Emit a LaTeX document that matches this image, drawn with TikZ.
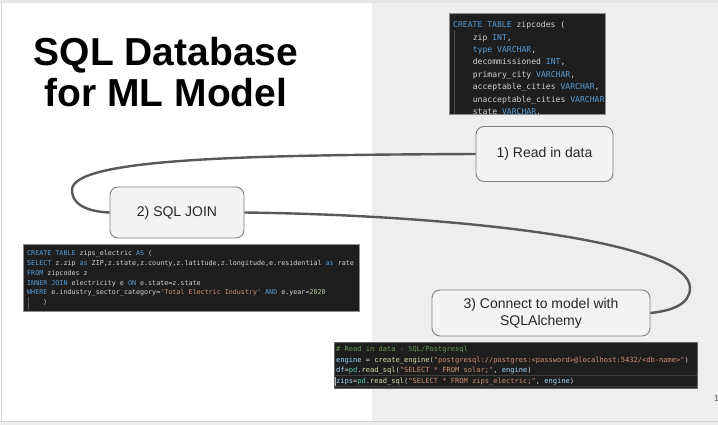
\documentclass[tikz,border=0pt]{standalone}
\usepackage{fontspec}
\setmainfont{Liberation Sans}
\setmonofont{DejaVu Sans Mono}
\definecolor{panelgrey}{HTML}{EEEEEE}
\definecolor{framegrey}{HTML}{D4D4D4}
\definecolor{codebg}{HTML}{1E1E1E}
\definecolor{codefg}{HTML}{D4D4D4}
\definecolor{sqlblue}{HTML}{569CD6}
\definecolor{strorange}{HTML}{CE9178}
\definecolor{numgreen}{HTML}{B5CEA8}
\definecolor{comgreen}{HTML}{6A9955}
\definecolor{varblue}{HTML}{9CDCFE}
\definecolor{funyellow}{HTML}{DCDCAA}
\definecolor{modteal}{HTML}{4EC9B0}
\definecolor{linkgrey}{HTML}{595959}
\definecolor{boxedge}{HTML}{808080}
\definecolor{boxfill}{HTML}{F3F3F3}
\definecolor{textdark}{HTML}{262626}
\newcommand\kwd[1]{\textcolor{sqlblue}{#1}}
\newcommand\strg[1]{\textcolor{strorange}{#1}}
\newcommand\numb[1]{\textcolor{numgreen}{#1}}
\newcommand\pyv[1]{\textcolor{varblue}{#1}}
\newcommand\pyf[1]{\textcolor{funyellow}{#1}}
\newcommand\pym[1]{\textcolor{modteal}{#1}}
\begin{document}
\begin{tikzpicture}[x=1pt,y=-1pt,
    stepbox/.style={draw=boxedge, fill=boxfill, rounded corners=8pt, line width=0.9pt,
      align=center, text=textdark, font=\fontsize{14}{17}\selectfont},
    codeline/.style={anchor=base west, inner sep=0pt, text=codefg},
    codebox/.style={fill=codebg},
    link/.style={draw=linkgrey, line width=2.4pt}]
  \useasboundingbox (0,0) rectangle (718,425);
  % slide frame
  \fill[white] (0,0) rectangle (718,425);
  \fill[panelgrey] (372,3) rectangle (718,421);
  \fill[black!10] (0,0) rectangle (718,3);
  \fill[black!7] (0,421) rectangle (718,425);
  \draw[framegrey] (0,421) -- (718,421);
  \draw[framegrey] (1,3) -- (1,421);
  % title
  \node[anchor=base, font=\bfseries\fontsize{39}{41}\selectfont] (title1) at (166,66) {SQL Database};
  \node[anchor=base, font=\bfseries\fontsize{39}{41}\selectfont] (title2) at (166,107) {for ML Model};
  % code: zipcodes table
  \begin{scope}[font=\ttfamily\fontsize{8.1}{10}\selectfont]
    \clip (449,13) rectangle (605,114);
    \fill[codebox] (449,13) rectangle (605,114);
    \draw[black!70, line width=0.6pt] (454,31) -- (454,114);
    \node[codeline] (a1) at (453,27.6) {\kwd{CREATE TABLE} zipcodes (};
    \node[codeline] (a2) at (472.6,40.05) {zip \kwd{INT},};
    \node[codeline] (a3) at (472.6,52.5) {\kwd{type VARCHAR},};
    \node[codeline] (a4) at (472.6,64.95) {decommissioned \kwd{INT},};
    \node[codeline] (a5) at (472.6,77.4) {primary\_city \kwd{VARCHAR},};
    \node[codeline] (a6) at (472.6,89.85) {acceptable\_cities \kwd{VARCHAR},};
    \node[codeline] (a7) at (472.6,102.3) {unacceptable\_cities \kwd{VARCHAR},};
    \node[codeline] (a8) at (472.6,114.75) {state \kwd{VARCHAR},};
  \end{scope}
  \draw[black!45, line width=0.8pt] (449,13) rectangle (605,114);
  % code: join
  \begin{scope}[font=\ttfamily\fontsize{6.7}{8}\selectfont]
    \fill[codebox] (23,244) rectangle (359,311);
    \draw[black!45, line width=0.8pt] (23,244) rectangle (359,311);
    \draw[black!65, line width=0.6pt] (28,297) -- (28,310);
    \node[codeline] (b1) at (27,255.7) {\kwd{CREATE TABLE} zips\_electric \kwd{AS} (};
    \node[codeline] (b2) at (27,265.5) {\kwd{SELECT} z.zip \kwd{as} ZIP,z.state,z.county,z.latitude,z.longitude,e.residential \kwd{as} rate};
    \node[codeline] (b3) at (27,275.3) {\kwd{FROM} zipcodes z};
    \node[codeline] (b4) at (27,285.1) {\kwd{INNER JOIN} electricity e \kwd{ON} e.state=z.state};
    \node[codeline] (b5) at (27,294.9) {\kwd{WHERE} e.industry\_sector\_category=\strg{'Total Electric Industry'} \kwd{AND} e.year=\numb{2020}};
    \node[codeline] (b6) at (43,304.7) {)};
  \end{scope}
  % code: sqlalchemy
  \begin{scope}[font=\ttfamily\fontsize{7.06}{9}\selectfont]
    \fill[codebox] (334,342) rectangle (697,388);
    \draw[black!60, line width=0.5pt] (334,342) rectangle (697,388);
    \draw[black!75, line width=0.5pt] (334,375.5) -- (697,375.5);
    \draw[black!75, line width=0.5pt] (334,386.5) -- (697,386.5);
    \node[codeline] (c1) at (336,351.5) {\textcolor{comgreen}{\# Read in data - SQL/Postgresql}};
    \node[codeline] (c2) at (336,362.2) {\pyv{engine} = \pyf{create\_engine}(\strg{"postgresql://postgres:<password>@localhost:5432/<db-name>"})};
    \node[codeline] (c3) at (336,372.9) {\pyv{df}=\pym{pd}.\pyf{read\_sql}(\strg{"SELECT * FROM solar;"}, \pyv{engine})};
    \node[codeline] (c4) at (336,383.6) {\pyv{zips}=\pym{pd}.\pyf{read\_sql}(\strg{"SELECT * FROM zips\_electric;"}, \pyv{engine})};
    \draw[black!30, line width=0.8pt] (335.5,376.5) -- (335.5,386);
  \end{scope}
  % steps
  \node[stepbox, minimum width=137, minimum height=55] (read) at (544.5,154) {1) Read in data};
  \node[stepbox, minimum width=134, minimum height=51] (join) at (177,212.5) {2) SQL JOIN};
  \node[stepbox, minimum width=218, minimum height=46] (connect) at (541,313) {3) Connect to model with\\SQLAlchemy};
  % connectors
  \draw[link] (read.west) .. controls (250,155) and (72,158) .. (72,190)
    .. controls (72,208) and (95,212) .. (join.west);
  \draw[link] (join.east) .. controls (450,215) and (690,240) .. (690,288)
    .. controls (690,305) and (670,311) .. (connect.east);
  % page number
  \node[anchor=west, inner sep=0pt, text=black!65, font=\fontsize{9}{10}\selectfont] (pagenum) at (714,398) {1};
\end{tikzpicture}
\end{document}
